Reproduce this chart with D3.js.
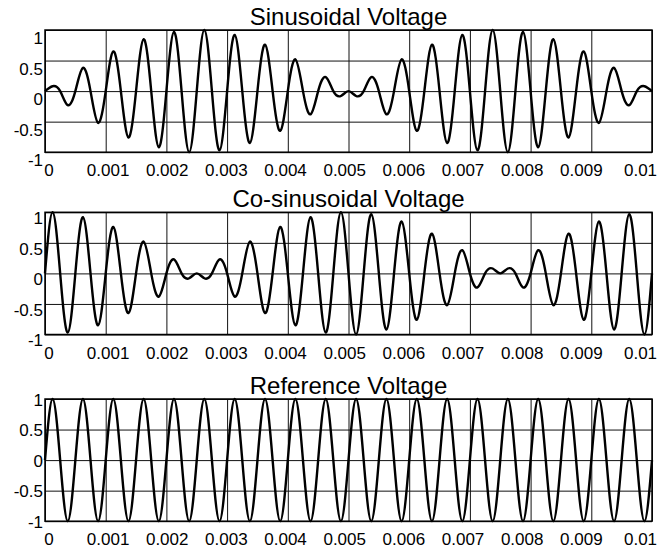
<!doctype html>
<html lang="en">
<head>
  <meta charset="UTF-8">
  <title>Voltages</title>
  <style>
    body {
      margin: 0;
      background: #fff;
    }

    svg {
      display: block;
      font-family: 'Liberation Sans', Arial, sans-serif;
    }

    .grid line {
      stroke: #111;
      stroke-width: 1;
    }

    .grid .domain {
      display: none;
    }
  </style>
</head>
<body>
<div class="chart"></div>
<script src="https://d3js.org/d3.v7.min.js"></script>
<script>
  (function () {
    // one sample every 0.125 ms (zero crossings and peaks of the 2 kHz carrier)
    const sampleStep = 0.000125

    const sinusoidal = [
      0, 0.08, 0, -0.23, 0, 0.38, 0, -0.52, 0, 0.65,
      0, -0.76, 0, 0.85, 0, -0.92, 0, 0.97, 0, -1,
      0, 1, 0, -0.97, 0, 0.92, 0, -0.85, 0, 0.76,
      0, -0.65, 0, 0.52, 0, -0.38, 0, 0.23, 0, -0.08,
      0, -0.08, 0, 0.23, 0, -0.38, 0, 0.52, 0, -0.65,
      0, 0.76, 0, -0.85, 0, 0.92, 0, -0.97, 0, 1,
      0, -1, 0, 0.97, 0, -0.92, 0, 0.85, 0, -0.76,
      0, 0.65, 0, -0.52, 0, 0.38, 0, -0.23, 0, 0.08,
      0
    ]

    const cosinusoidal = [
      0, 1, 0, -0.97, 0, 0.92, 0, -0.85, 0, 0.76,
      0, -0.65, 0, 0.52, 0, -0.38, 0, 0.23, 0, -0.08,
      0, -0.08, 0, 0.23, 0, -0.38, 0, 0.52, 0, -0.65,
      0, 0.76, 0, -0.85, 0, 0.92, 0, -0.97, 0, 1,
      0, -1, 0, 0.97, 0, -0.92, 0, 0.85, 0, -0.76,
      0, 0.65, 0, -0.52, 0, 0.38, 0, -0.23, 0, 0.08,
      0, 0.08, 0, -0.23, 0, 0.38, 0, -0.52, 0, 0.65,
      0, -0.76, 0, 0.85, 0, -0.92, 0, 0.97, 0, -1,
      0
    ]

    const reference = [
      0, 1, 0, -1, 0, 1, 0, -1,
      0, 1, 0, -1, 0, 1, 0, -1,
      0, 1, 0, -1, 0, 1, 0, -1,
      0, 1, 0, -1, 0, 1, 0, -1,
      0, 1, 0, -1, 0, 1, 0, -1,
      0, 1, 0, -1, 0, 1, 0, -1,
      0, 1, 0, -1, 0, 1, 0, -1,
      0, 1, 0, -1, 0, 1, 0, -1,
      0, 1, 0, -1, 0, 1, 0, -1,
      0, 1, 0, -1, 0, 1, 0, -1,
      0
    ]

    const titles = ['Sinusoidal Voltage', 'Co-sinusoidal Voltage', 'Reference Voltage']

    const xTicks = [0, 0.001, 0.002, 0.003, 0.004, 0.005, 0.006, 0.007, 0.008, 0.009, 0.01]
    const xTickLabels = ['0', '0.001', '0.002', '0.003', '0.004', '0.005', '0.006', '0.007', '0.008', '0.009', '0.01']
    const yTicks = [-1, -0.5, 0, 0.5, 1]
    const yTickLabels = ['-1', '-0.5', '0', '0.5', '1']

    const width = 657
    const height = 548
    const plotLeft = 45
    const plotRight = 652
    const panelHeight = 122.2
    const panelTops = [30, 212.3, 399]
    // the exported figure puts the y labels a little low in the upper panels
    const yLabelDrop = [13.5, 11.3, 6]

    const panels = [
      {title: titles[0], values: sinusoidal},
      {title: titles[1], values: cosinusoidal},
      {title: titles[2], values: reference}
    ]

    const x = d3.scaleLinear()
      .domain([0, 0.01])
      .range([plotLeft, plotRight])

    // tick labels sit on a slightly narrower spread than the ticks
    const xLabel = d3.scaleLinear()
      .domain([0, 0.01])
      .range([48.4, 640])

    const y = d3.scaleLinear()
      .domain([-1, 1])
      .range([panelHeight, 0])

    const line = d3.line()
      .x(d => x(d.t))
      .y(d => y(d.v))
      .curve(d3.curveNatural)

    const svg = d3.select('.chart')
      .append('svg')
      .attr('width', width)
      .attr('height', height)

    panels.forEach((panel, p) => {
      const g = svg.append('g')
        .attr('transform', `translate(0, ${panelTops[p]})`)

      const xAxis = d3.axisBottom(x)
        .tickValues(xTicks)
        .tickFormat((d, i) => xTickLabels[i])
        .tickSizeInner(-panelHeight)
        .tickSizeOuter(0)

      const yAxis = d3.axisLeft(y)
        .tickValues(yTicks)
        .tickFormat((d, i) => yTickLabels[i])
        .tickSizeInner(-(plotRight - plotLeft))
        .tickSizeOuter(0)

      const gx = g.append('g')
        .attr('class', 'grid')
        .attr('transform', `translate(0, ${panelHeight})`)
        .call(xAxis)
        .attr('font-size', 17)
        .attr('font-family', null)

      gx.selectAll('text')
        .attr('fill', '#000')
        .attr('x', d => xLabel(d) - x(d))
        .attr('y', 24)
        .attr('dy', null)

      const gy = g.append('g')
        .attr('class', 'grid')
        .attr('transform', `translate(${plotLeft}, 0)`)
        .call(yAxis)
        .attr('font-size', 17)
        .attr('font-family', null)

      gy.selectAll('text')
        .attr('fill', '#000')
        .attr('x', -2)
        .attr('y', yLabelDrop[p])
        .attr('dy', null)

      const points = panel.values.map((v, i) => ({t: i * sampleStep, v: v}))

      g.append('path')
        .datum(points)
        .attr('fill', 'none')
        .attr('stroke', '#000')
        .attr('stroke-width', 2.4)
        .attr('stroke-linejoin', 'round')
        .attr('d', line)

      g.append('rect')
        .attr('x', plotLeft)
        .attr('y', 0)
        .attr('width', plotRight - plotLeft)
        .attr('height', panelHeight)
        .attr('fill', 'none')
        .attr('stroke', '#000')
        .attr('stroke-width', 1.5)

      g.append('text')
        .text(panel.title)
        .attr('x', (plotLeft + plotRight) / 2)
        .attr('y', -5)
        .attr('text-anchor', 'middle')
        .attr('font-size', 24)
    })
  })()
</script>
</body>
</html>
